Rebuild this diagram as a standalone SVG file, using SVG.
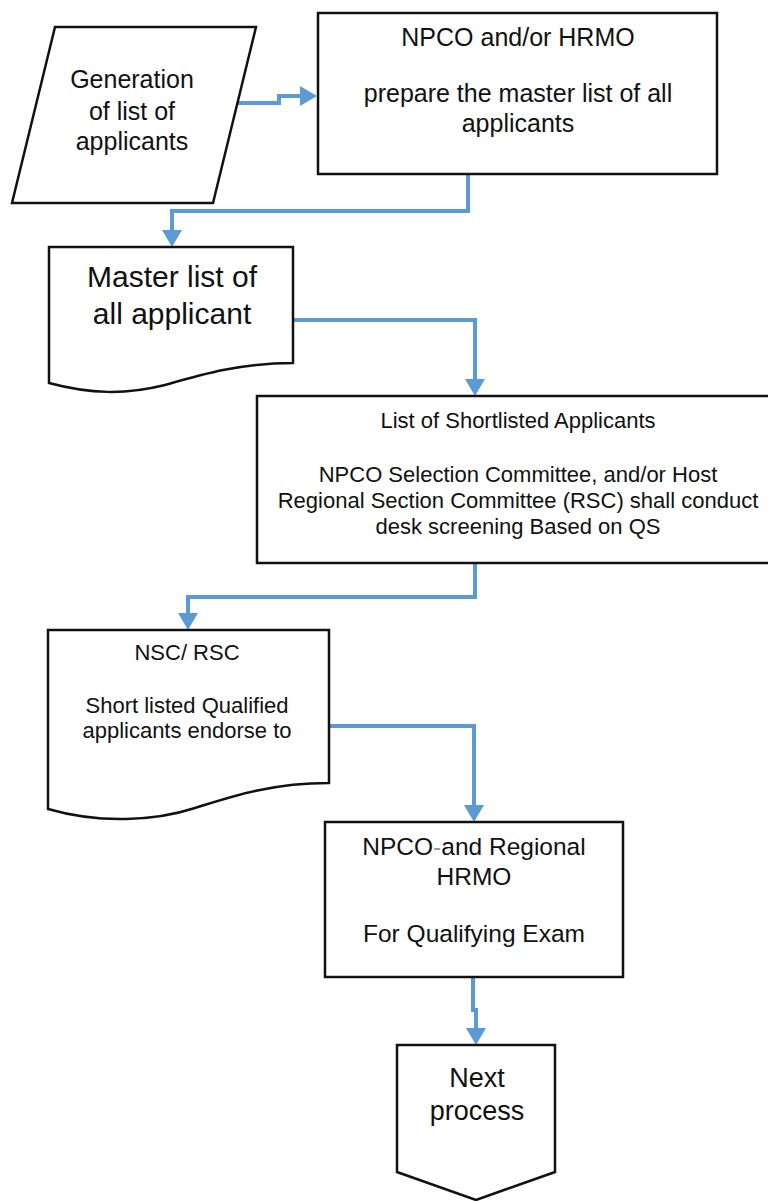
<svg xmlns="http://www.w3.org/2000/svg" width="768" height="1201" viewBox="0 0 768 1201">
<style>
.shape{fill:#fff;stroke:#111;stroke-width:2.5;stroke-linejoin:miter}
.t{font-family:"Liberation Sans",Arial,sans-serif;fill:#111;text-anchor:middle}
.conn{fill:none;stroke:#5B9BD5;stroke-width:4;stroke-linejoin:miter}
</style>
<defs>
<marker id="arr" markerUnits="userSpaceOnUse" markerWidth="17" markerHeight="20" refX="0" refY="10" orient="auto">
<path d="M0,0 L17,10 L0,20 Z" fill="#5B9BD5"/>
</marker>
</defs>
<rect width="768" height="1201" fill="#fff"/>
<g id="connectors">
<path class="conn" d="M237,103 H279 V96 H300" marker-end="url(#arr)"/>
<path class="conn" d="M468,175 V211 H172 V230" marker-end="url(#arr)"/>
<path class="conn" d="M293,320 H475 V379" marker-end="url(#arr)"/>
<path class="conn" d="M475,563 V597 H188 V613" marker-end="url(#arr)"/>
<path class="conn" d="M329,726 H474 V805" marker-end="url(#arr)"/>
<path class="conn" d="M473,977 V1010 H476 V1028" marker-end="url(#arr)"/>
</g>
<g id="n_generation">
<polygon class="shape" points="55,27 256,27 213,203 12,203"/>
<text class="t" font-size="25" x="132" y="88">Generation</text>
<text class="t" font-size="25" x="132" y="120">of list of</text>
<text class="t" font-size="25" x="132" y="150">applicants</text>
</g>
<g id="n_prepare">
<rect class="shape" x="318" y="13" width="399" height="161"/>
<text class="t" font-size="25" x="518" y="46">NPCO and/or HRMO</text>
<text class="t" font-size="25" x="518" y="102">prepare the master list of all</text>
<text class="t" font-size="25" x="518" y="132">applicants</text>
</g>
<g id="n_master">
<path class="shape" d="M49,247 H293 V363 C240,363 200,375 165,385 C125,395 90,394 49,383 Z"/>
<text class="t" font-size="30" x="172" y="287">Master list of</text>
<text class="t" font-size="30" x="172" y="324">all applicant</text>
</g>
<g id="n_shortlist">
<rect class="shape" x="257" y="396" width="530" height="167"/>
<text class="t" font-size="22" x="518" y="428">List of Shortlisted Applicants</text>
<text class="t" font-size="22" x="518" y="482">NPCO Selection Committee, and/or Host</text>
<text class="t" font-size="22" x="518" y="508">Regional Section Committee (RSC) shall conduct</text>
<text class="t" font-size="22" x="518" y="534">desk screening Based on QS</text>
</g>
<g id="n_nsc">
<path class="shape" d="M48,630 H329 V783 C270,783 230,797 195,808 C155,821 100,824 48,809 Z"/>
<text class="t" font-size="22" x="187" y="660">NSC/ RSC</text>
<text class="t" font-size="22" x="187" y="713">Short listed Qualified</text>
<text class="t" font-size="22" x="187" y="738">applicants endorse to</text>
</g>
<g id="n_exam">
<rect class="shape" x="325" y="822" width="298" height="155"/>
<text class="t" font-size="24.5" x="474" y="855">NPCO<tspan fill="#999">-</tspan>and Regional</text>
<text class="t" font-size="24.5" x="474" y="885">HRMO</text>
<text class="t" font-size="24.5" x="474" y="942">For Qualifying Exam</text>
</g>
<g id="n_next">
<polygon class="shape" points="397,1045 555,1045 555,1172 476,1200 397,1172"/>
<text class="t" font-size="27" x="477" y="1087">Next</text>
<text class="t" font-size="27" x="477" y="1120">process</text>
</g>
</svg>
